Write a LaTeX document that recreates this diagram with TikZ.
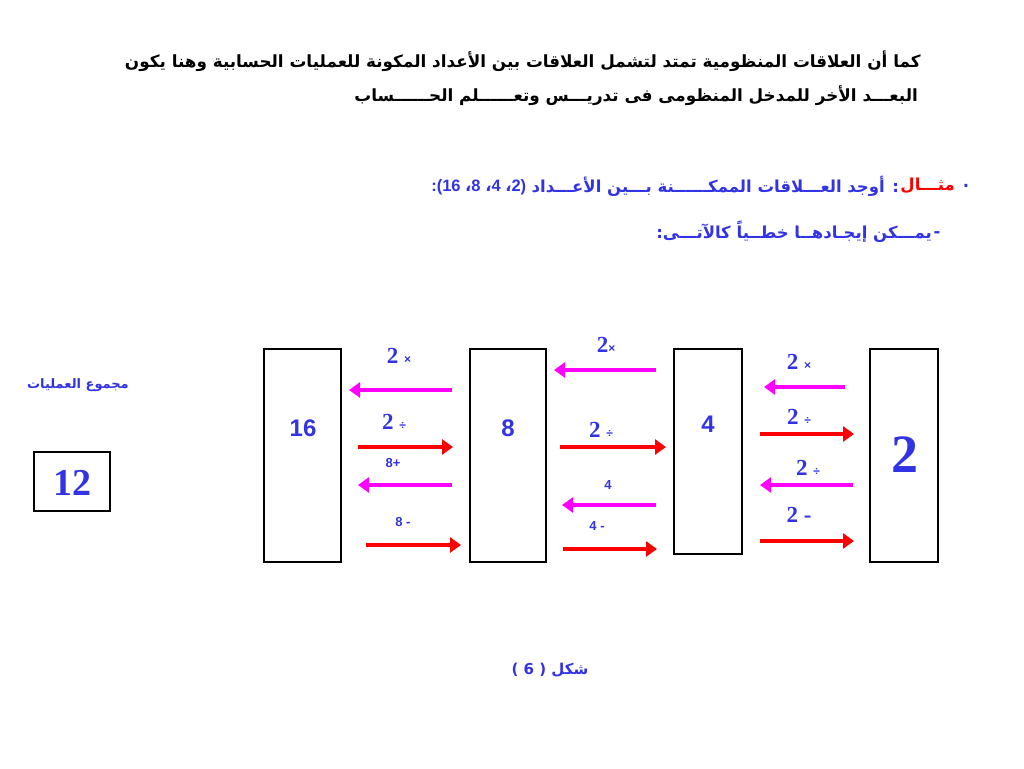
\documentclass[tikz,border=0pt]{standalone}
\usepackage{fontspec}
\usetikzlibrary{arrows.meta}
\TeXXeTstate=1
\newfontfamily\arabicfont[Script=Arabic]{DejaVu Sans}
\newfontfamily\sansb{Liberation Sans}
\newfontfamily\serifb{Liberation Serif}
\definecolor{tblue}{RGB}{51,51,230}
\definecolor{tmag}{RGB}{255,0,255}
\definecolor{tred}{RGB}{255,0,0}
\tikzset{
  numbox/.style={draw=black,line width=1.5pt,fill=white,inner sep=0pt},
  arrl/.style={draw=tmag,line width=4pt,-{Triangle[length=11pt,width=15pt]}},
  arrr/.style={draw=tred,line width=4pt,-{Triangle[length=11pt,width=15pt]}},
  lblser/.style={text=tblue,font=\serifb\bfseries\fontsize{23}{25}\selectfont,inner sep=0pt},
  lblsan/.style={text=tblue,font=\sansb\bfseries\fontsize{13}{15}\selectfont,inner sep=0pt},
  boxnum/.style={text=tblue,font=\sansb\bfseries\fontsize{24}{26}\selectfont,inner sep=0pt},
  head/.style={text=black,font=\arabicfont\bfseries\fontsize{16.8}{20}\selectfont,inner sep=0pt},
  bluear/.style={text=tblue,font=\arabicfont\bfseries\fontsize{16.5}{19}\selectfont,inner sep=0pt},
}
\newcommand{\opx}{{\sansb\bfseries\fontsize{12}{13}\selectfont ×}}
\newcommand{\opd}{{\sansb\bfseries\fontsize{12}{13}\selectfont ÷}}
\begin{document}
\begin{tikzpicture}[x=1pt,y=-1pt]
\useasboundingbox[fill=white] (0,0) rectangle (1024,768);
% header
\node[head,anchor=east] (h1) at (921,61) {\beginR كما أن العلاقات المنظومية تمتد لتشمل العلاقات بين الأعداد المكونة للعمليات الحسابية وهنا يكون\endR};
\node[head,anchor=east] (h2) at (918,96) {\beginR البعـــد الأخر للمدخل المنظومى فى تدريـــس وتعــــــلم الحــــــساب\endR};
% example
\node[bluear,anchor=center] (dot) at (966,186) {.};
\node[bluear,text=tred,anchor=east] (mithal) at (955,186) {\beginR مثـــال\endR};
\node[bluear,anchor=east] (ex1) at ([xshift=-1pt]mithal.west) {\beginR : أوجد العـــلاقات الممكــــــنة بـــين الأعـــداد\endR};
\node[text=tblue,inner sep=0pt,font=\sansb\bfseries\fontsize{16.5}{18}\selectfont,anchor=east] (nums) at ([xshift=-5pt,yshift=-1pt]ex1.west) {\beginL :(16 {\arabicfont ،}8 {\arabicfont ،}4 {\arabicfont ،}2)\endL};
\node[bluear,anchor=east] (ex2) at (932,232) {\beginR يمـــكن إيجـادهــا خطــياً كالآتـــى:\endR};
\node[bluear,anchor=center] (dash) at (937,235) {-};
% boxes
\node[numbox,minimum width=77pt,minimum height=213pt] (b16) at (302.5,455.5) {};
\node[numbox,minimum width=76pt,minimum height=213pt] (b8) at (508,455.5) {};
\node[numbox,minimum width=68pt,minimum height=205pt] (b4) at (708,451.5) {};
\node[numbox,minimum width=68pt,minimum height=213pt] (b2) at (904,455.5) {};
\node[numbox,minimum width=76pt,minimum height=59pt] (b12) at (72,481.5) {};
\node[boxnum] (n16) at (303,428) {16};
\node[boxnum] (n8) at (508,428) {8};
\node[boxnum] (n4) at (708,424) {4};
\node[text=tblue,font=\serifb\bfseries\fontsize{54}{56}\selectfont,inner sep=0pt] (n2) at (905,455) {2};
\node[text=tblue,font=\serifb\bfseries\fontsize{38}{40}\selectfont,inner sep=0pt] (n12) at (72,483) {12};
\node[text=tblue,font=\arabicfont\bfseries\fontsize{13}{15}\selectfont,inner sep=0pt] (sumlbl) at (78,385) {\beginR مجموع العمليات\endR};
% labels between 16 and 8
\node[lblser] (l1) at (399,356) {2 \opx};
\node[lblser] (l2) at (394,422) {2 \opd};
\node[lblsan] (l3) at (393,463) {8+};
\node[lblsan] (l4) at (403,522) {8 -};
% labels between 8 and 4
\node[lblser] (l5) at (606,345) {2\opx};
\node[lblser] (l6) at (601,430) {2 \opd};
\node[lblsan] (l7) at (608,485) {4};
\node[lblsan] (l8) at (597,526) {4 -};
% labels between 4 and 2
\node[lblser] (l9) at (799,362) {2 \opx};
\node[lblser] (l10) at (799,417) {2 \opd};
\node[lblser] (l11) at (808,468) {2 \opd};
\node[lblser] (l12) at (799,515) {2 -};
% arrow coordinates
\coordinate (a1s) at (452,390); \coordinate (a1e) at (349,390);
\coordinate (a2s) at (358,447); \coordinate (a2e) at (453,447);
\coordinate (a3s) at (452,485); \coordinate (a3e) at (358,485);
\coordinate (a4s) at (366,545); \coordinate (a4e) at (461,545);
\coordinate (a5s) at (656,370); \coordinate (a5e) at (554,370);
\coordinate (a6s) at (560,447); \coordinate (a6e) at (666,447);
\coordinate (a7s) at (656,505); \coordinate (a7e) at (562,505);
\coordinate (a8s) at (563,549); \coordinate (a8e) at (657,549);
\coordinate (a9s) at (845,387); \coordinate (a9e) at (764,387);
\coordinate (a10s) at (760,434); \coordinate (a10e) at (854,434);
\coordinate (a11s) at (853,485); \coordinate (a11e) at (760,485);
\coordinate (a12s) at (760,541); \coordinate (a12e) at (854,541);
\draw[arrl] (a1s) -- (a1e);
\draw[arrr] (a2s) -- (a2e);
\draw[arrl] (a3s) -- (a3e);
\draw[arrr] (a4s) -- (a4e);
\draw[arrl] (a5s) -- (a5e);
\draw[arrr] (a6s) -- (a6e);
\draw[arrl] (a7s) -- (a7e);
\draw[arrr] (a8s) -- (a8e);
\draw[arrl] (a9s) -- (a9e);
\draw[arrr] (a10s) -- (a10e);
\draw[arrl] (a11s) -- (a11e);
\draw[arrr] (a12s) -- (a12e);
% caption
\node[bluear,font=\arabicfont\bfseries\fontsize{15}{18}\selectfont] (cap) at (550,670) {\beginR شكل ( 6 )\endR};
\end{tikzpicture}
\end{document}
